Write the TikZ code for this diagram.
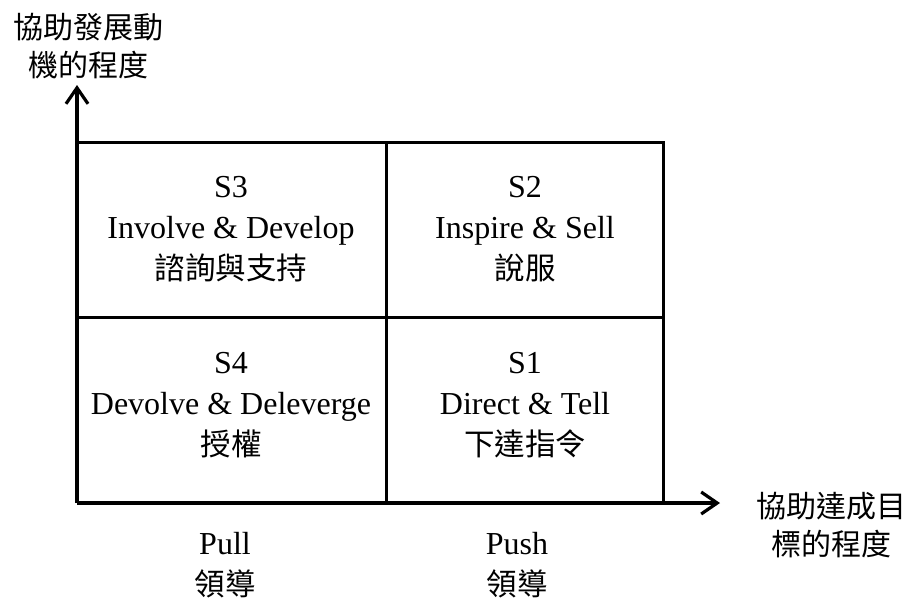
\documentclass[tikz,border=0pt]{standalone}
\usepackage{fontspec}
\setmainfont{Liberation Serif}
\newfontfamily\cjk{Noto Sans CJK TC}
\usetikzlibrary{arrows.meta}
\begin{document}
\begin{tikzpicture}[x=1pt,y=-1pt,
  grid/.style={line width=3pt, line cap=rect},
  axis/.style={line width=3.2pt, -{Straight Barb[length=16pt,width=22pt,line width=3.2pt]}},
  celltext/.style={align=center, font=\fontsize{32}{41}\selectfont, inner sep=0pt},
  cj/.style={},
  lab/.style={align=center, font=\fontsize{30}{38}\selectfont, inner sep=0pt}]
\useasboundingbox (0,0) rectangle (909,600);
\coordinate (O) at (77,503);
\coordinate (ytip) at (77,85);
\coordinate (xtip) at (720,503);
\coordinate (TL) at (77,142);
\coordinate (TR) at (663,142);
\coordinate (BR) at (663,503);
\coordinate (TM) at (386,142);
\coordinate (BM) at (386,503);
\coordinate (ML) at (77,317);
\coordinate (MR) at (663,317);
\draw[grid] (TL) -- (TR) -- (BR);
\draw[grid] (TM) -- (BM);
\draw[grid] (ML) -- (MR);
\draw[axis] (O) -- (ytip);
\draw[axis] (O) -- (xtip);
\node[celltext] (s3) at (231,229) {S3\\Involve \& Develop\\{\cjk\fontsize{30.5}{41}\selectfont 諮詢與支持}};
\node[celltext] (s2) at (525,229) {S2\\Inspire \& Sell\\{\cjk\fontsize{30.5}{41}\selectfont 說服}};
\node[celltext] (s4) at (231,405) {S4\\Devolve \& Deleverge\\{\cjk\fontsize{30.5}{41}\selectfont 授權}};
\node[celltext] (s1) at (525,405) {S1\\Direct \& Tell\\{\cjk\fontsize{30.5}{41}\selectfont 下達指令}};
\node[lab] (ylab) at (88,46) {\cjk 協助發展動\\\cjk 機的程度};
\node[lab] (xlab) at (831,525) {\cjk 協助達成目\\\cjk 標的程度};
\node[celltext] (pull) at (225,565) {Pull\\{\cjk\fontsize{30.5}{41}\selectfont 領導}};
\node[celltext] (push) at (517,565) {Push\\{\cjk\fontsize{30.5}{41}\selectfont 領導}};
\end{tikzpicture}
\end{document}
